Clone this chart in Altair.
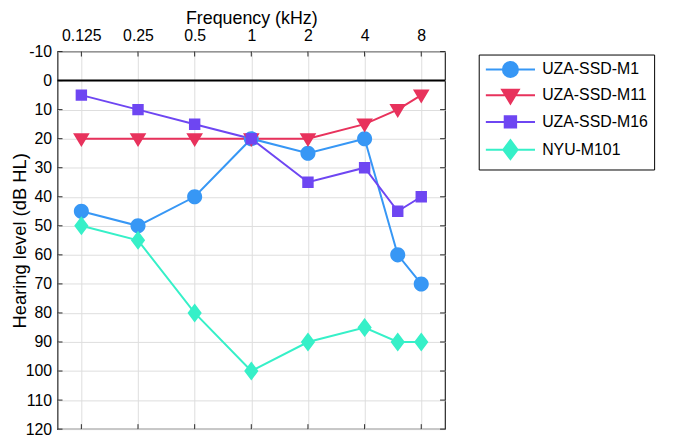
import altair as alt
import pandas as pd

# ---- data ----
freqs = [0.125, 0.25, 0.5, 1, 2, 4, 6, 8]
series_names = ["UZA-SSD-M1", "UZA-SSD-M11", "UZA-SSD-M16", "NYU-M101"]
m1 = [45, 50, 40, 20, 25, 20, 60, 70]
m11 = [20, 20, 20, 20, 20, 15, 10, 5]
m16 = [5, 10, 15, 20, 35, 30, 45, 40]
nyu = [50, 55, 80, 100, 90, 85, 90, 90]
series_values = [m1, m11, m16, nyu]
series_colors = ["#3797F5", "#E8325C", "#6E46F2", "#36F0C8"]
freq_ticks = [0.125, 0.25, 0.5, 1, 2, 4, 8]
level_ticks = [-10, 0, 10, 20, 30, 40, 50, 60, 70, 80, 90, 100, 110, 120]
zero_line = [0]

series_shapes = [
    "M-3.1,0H3.1M0.95,0A0.95,0.95,0,1,1,-0.95,0A0.95,0.95,0,1,1,0.95,0Z",
    "M-3.1,0H3.1M-1.05,-0.7L1.05,-0.7L0,1.05Z",
    "M-3.1,0H3.1M-0.72,-0.72H0.72V0.72H-0.72Z",
    "M-3.1,0H3.1M0,-1.2L0.9,0L0,1.2L-0.9,0Z",
]

rows = []
for name, vals in zip(series_names, series_values):
    for f, v in zip(freqs, vals):
        rows.append({"series": name, "freq": f, "level": v})
df = pd.DataFrame(rows)

W, H = 391, 381
FONT = "Liberation Sans"

xscale = alt.Scale(type="log", base=2, domain=[0.0934, 10.7], nice=False)
yscale = alt.Scale(domain=[-10, 120], reverse=True, nice=False, zero=False)
cscale = alt.Scale(domain=series_names, range=series_colors)
sscale = alt.Scale(domain=series_names, range=series_shapes)

legend = alt.Legend(title=None, orient="none", legendX=425, legendY=3,
                    labelExpr="datum.label + '\u00a0\u00a0\u00a0\u00a0\u00a0\u00a0'")

x_axis = alt.Axis(
    orient="top", values=freq_ticks, format="~g", title="Frequency (kHz)",
    labelPadding=8, titleBaseline="top", titleY=-42, titleX=W / 2,
    titleFontSize=18,
)
y_axis = alt.Axis(
    values=level_ticks, title="Hearing level (dB HL)", labelPadding=6,
    labelExpr="'' + datum.value", titleX=-28, titleY=H / 2, titleFontSize=18.5,
)

base = alt.Chart(df)

ytick_df = pd.DataFrame({"level": level_ticks})
xtick_df = pd.DataFrame({"freq": freq_ticks})
tick_col = "#262626"
left_ticks = alt.Chart(ytick_df).mark_rule(color=tick_col, strokeWidth=1).encode(
    y=alt.Y("level:Q", scale=yscale, axis=y_axis), x=alt.value(0), x2=alt.value(5))
right_ticks = alt.Chart(ytick_df).mark_rule(color=tick_col, strokeWidth=1).encode(
    y=alt.Y("level:Q", scale=yscale, axis=y_axis), x=alt.value(W - 5), x2=alt.value(W))
top_ticks = alt.Chart(xtick_df).mark_rule(color=tick_col, strokeWidth=1).encode(
    x=alt.X("freq:Q", scale=xscale, axis=x_axis), y=alt.value(0), y2=alt.value(5))
bottom_ticks = alt.Chart(xtick_df).mark_rule(color=tick_col, strokeWidth=1).encode(
    x=alt.X("freq:Q", scale=xscale, axis=x_axis), y=alt.value(H - 5), y2=alt.value(H))

zero_rule = alt.Chart(pd.DataFrame({"level": zero_line})).mark_rule(
    color="black", strokeWidth=2).encode(y=alt.Y("level:Q", scale=yscale, axis=y_axis))

lines = base.mark_line(strokeWidth=2).encode(
    x=alt.X("freq:Q", scale=xscale, axis=x_axis),
    y=alt.Y("level:Q", scale=yscale, axis=y_axis),
    color=alt.Color("series:N", scale=cscale, legend=legend),
    detail="series:N",
)

points = base.mark_point(filled=True, size=256, opacity=1).encode(
    x=alt.X("freq:Q", scale=xscale, axis=x_axis),
    y=alt.Y("level:Q", scale=yscale, axis=y_axis),
    color=alt.Color("series:N", scale=cscale, legend=legend),
    shape=alt.Shape("series:N", scale=sscale, legend=legend),
)

chart = alt.layer(
    left_ticks, right_ticks, top_ticks, bottom_ticks, zero_rule,
    lines, points,
).properties(
    width=W, height=H,
    autosize=alt.AutoSizeParams(type="none"),
    padding={"left": 50, "top": 42, "right": 224, "bottom": 8},
).configure_view(
    stroke="#262626", strokeWidth=1.2,
).configure_axis(
    gridColor="#DEDEDE", gridWidth=1, ticks=False, domain=False, grid=True,
    labelFont=FONT, labelFontSize=16, labelColor="black",
    titleFont=FONT, titleFontWeight="normal", titleColor="black",
).configure_legend(
    strokeColor="black", fillColor="white", padding=6,
    symbolSize=256, symbolStrokeWidth=2, symbolOffset=17, labelOffset=23,
    rowPadding=4, labelFont=FONT, labelFontSize=16, labelColor="black",
)

chart.save("out.html", embed_options={"renderer": "svg", "actions": False})
